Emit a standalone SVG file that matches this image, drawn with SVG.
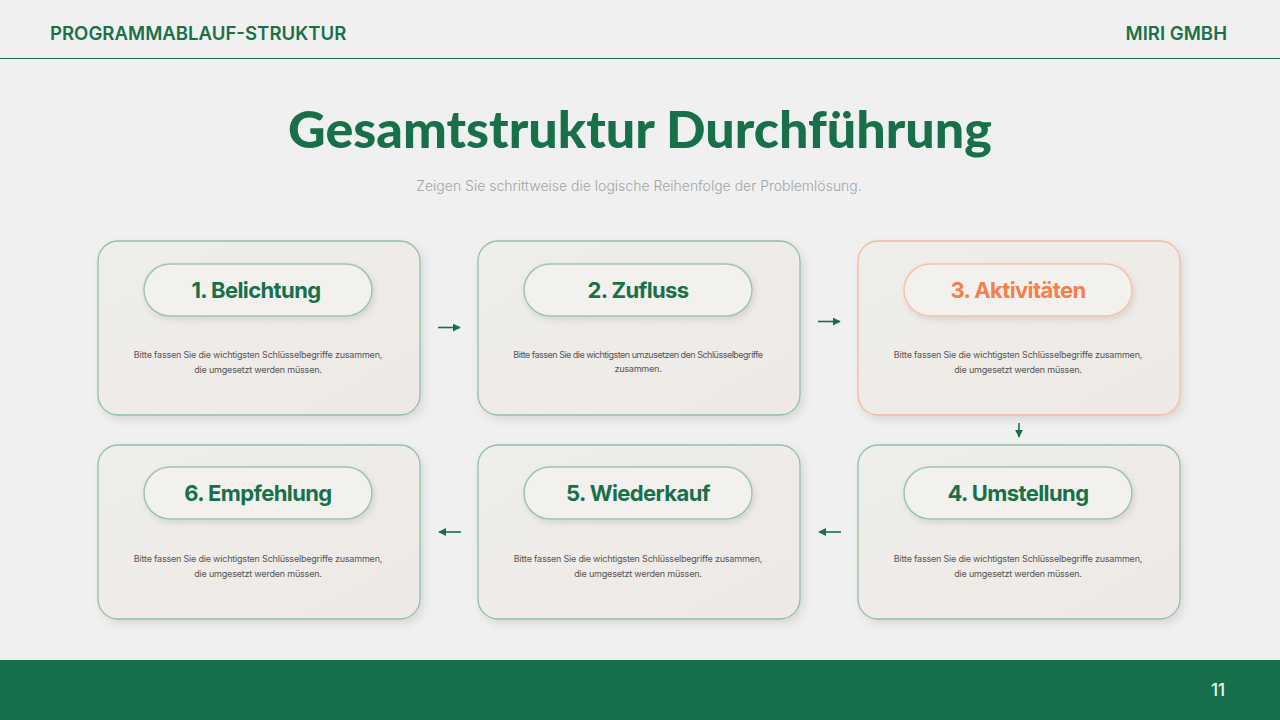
<svg xmlns="http://www.w3.org/2000/svg" width="1280" height="720" viewBox="0 0 1280 720">
<defs>
<filter id="sh" x="-10%" y="-10%" width="125%" height="130%">
<feDropShadow dx="3" dy="4" stdDeviation="4" flood-color="#000" flood-opacity="0.10"/>
</filter>
<filter id="psh" x="-10%" y="-20%" width="125%" height="150%">
<feDropShadow dx="2" dy="3" stdDeviation="3" flood-color="#000" flood-opacity="0.10"/>
</filter>
<linearGradient id="cg" x1="0" y1="0" x2="1" y2="1">
<stop offset="0" stop-color="#eeeeea"/>
<stop offset="1" stop-color="#efe9e6"/>
</linearGradient>
<marker id="ah" viewBox="0 0 10 10" refX="9" refY="5" markerWidth="5" markerHeight="5" orient="auto">
<path d="M0,0 L10,5 L0,10 z" fill="#17704a"/>
</marker>
</defs>
<style>
.card{fill:url(#cg);stroke:#8dbfa4;stroke-width:1.3;filter:url(#sh)}
.card.o{stroke:#f4b99c}
.pill{fill:#f2f1ee;stroke:#9cc5ae;stroke-width:1.5;filter:url(#psh)}
.pill.o{stroke:#f6c2a6}
.lbl{font-family:Inter,"Noto Sans",sans-serif;font-weight:700;font-size:22px;fill:#17704a;text-anchor:middle;letter-spacing:-0.6px}
.lbl.o{fill:#f47f4c}
.body{font-family:Inter,"Noto Sans",sans-serif;font-size:9px;fill:#555;text-anchor:middle;letter-spacing:-0.2px}
.body.t{letter-spacing:-0.5px}
.hdr{font-family:Inter,"Noto Sans",sans-serif;font-weight:600;font-size:18.6px;fill:#1b7048}
.con{stroke:#17704a;stroke-width:1.6;fill:none;marker-end:url(#ah)}
</style>
<rect width="1280" height="720" fill="#f1f0f1"/>
<g id="header">
<text class="hdr" x="50" y="39.5">PROGRAMMABLAUF-STRUKTUR</text>
<text class="hdr" x="1227" y="39.5" text-anchor="end">MIRI GMBH</text>
<line x1="0" y1="58.5" x2="1280" y2="58.5" stroke="#1b6b48" stroke-width="1.2"/>
</g>
<g id="title">
<text x="640" y="148" text-anchor="middle" font-family="Lato,Inter,sans-serif" font-weight="900" font-size="52" fill="#17704a">Gesamtstruktur Durchführung</text>
<text x="639" y="191" text-anchor="middle" font-family="Inter,'Noto Sans',sans-serif" font-weight="300" font-size="14" fill="#a4a4a4">Zeigen Sie schrittweise die logische Reihenfolge der Problemlösung.</text>
</g>
<g id="node1">
<rect class="card" x="98" y="241" width="322" height="174" rx="20"/>
<rect class="pill" x="144" y="264" width="228" height="52" rx="26"/>
<text class="lbl" x="256" y="298">1. Belichtung</text>
<text class="body" x="258" y="358">Bitte fassen Sie die wichtigsten Schlüsselbegriffe zusammen,</text>
<text class="body" x="258" y="373">die umgesetzt werden müssen.</text>
</g>
<g id="node2">
<rect class="card" x="478" y="241" width="322" height="174" rx="20"/>
<rect class="pill" x="524" y="264" width="228" height="52" rx="26"/>
<text class="lbl" x="638" y="298">2. Zufluss</text>
<text class="body t" x="638" y="358">Bitte fassen Sie die wichtigsten umzusetzen den Schlüsselbegriffe</text>
<text class="body" x="638" y="372">zusammen.</text>
</g>
<g id="node3">
<rect class="card o" x="858" y="241" width="322" height="174" rx="20"/>
<rect class="pill o" x="904" y="264" width="228" height="52" rx="26"/>
<text class="lbl o" x="1018" y="298">3. Aktivitäten</text>
<text class="body" x="1018" y="358">Bitte fassen Sie die wichtigsten Schlüsselbegriffe zusammen,</text>
<text class="body" x="1018" y="373">die umgesetzt werden müssen.</text>
</g>
<g id="node4">
<rect class="card" x="858" y="445" width="322" height="174" rx="20"/>
<rect class="pill" x="904" y="467" width="228" height="52" rx="26"/>
<text class="lbl" x="1018" y="501">4. Umstellung</text>
<text class="body" x="1018" y="562">Bitte fassen Sie die wichtigsten Schlüsselbegriffe zusammen,</text>
<text class="body" x="1018" y="577">die umgesetzt werden müssen.</text>
</g>
<g id="node5">
<rect class="card" x="478" y="445" width="322" height="174" rx="20"/>
<rect class="pill" x="524" y="467" width="228" height="52" rx="26"/>
<text class="lbl" x="638" y="501">5. Wiederkauf</text>
<text class="body" x="638" y="562">Bitte fassen Sie die wichtigsten Schlüsselbegriffe zusammen,</text>
<text class="body" x="638" y="577">die umgesetzt werden müssen.</text>
</g>
<g id="node6">
<rect class="card" x="98" y="445" width="322" height="174" rx="20"/>
<rect class="pill" x="144" y="467" width="228" height="52" rx="26"/>
<text class="lbl" x="258" y="501">6. Empfehlung</text>
<text class="body" x="258" y="562">Bitte fassen Sie die wichtigsten Schlüsselbegriffe zusammen,</text>
<text class="body" x="258" y="577">die umgesetzt werden müssen.</text>
</g>
<g id="connectors">
<line class="con" x1="438" y1="327.5" x2="460" y2="327.5"/>
<line class="con" x1="818" y1="321.5" x2="840" y2="321.5"/>
<line class="con" x1="1019" y1="423" x2="1019" y2="437"/>
<line class="con" x1="841" y1="532" x2="819" y2="532"/>
<line class="con" x1="461" y1="532" x2="439" y2="532"/>
</g>
<g id="footer">
<rect x="0" y="660" width="1280" height="60" fill="#15704b"/>
<text x="1218" y="696" text-anchor="middle" font-family="Inter,'Noto Sans',sans-serif" font-weight="500" font-size="17" fill="#eafaf0">11</text>
</g>
</svg>
